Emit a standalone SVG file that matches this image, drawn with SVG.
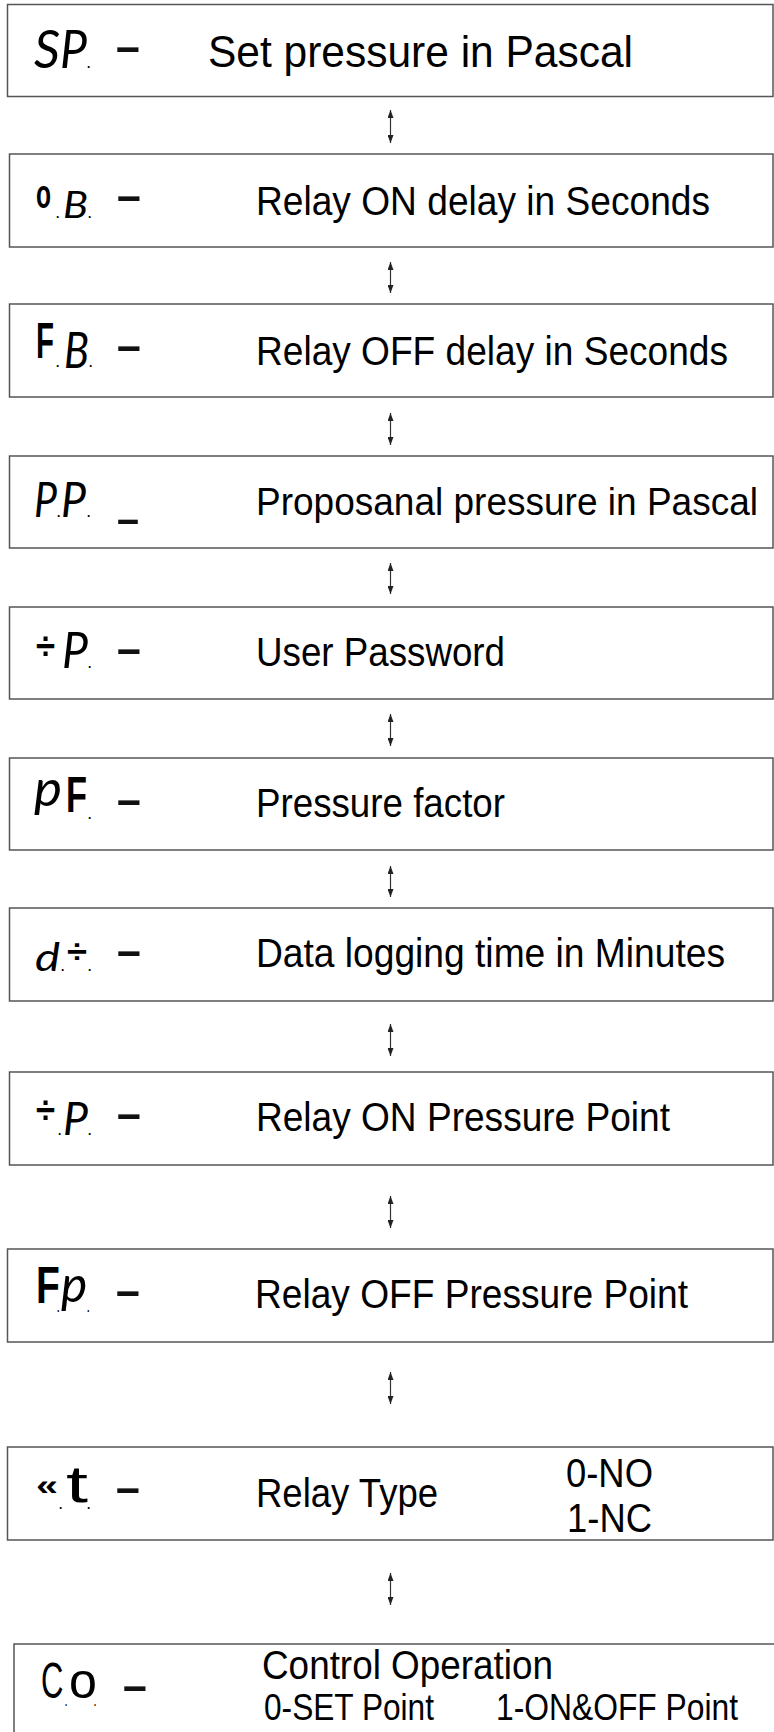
<svg xmlns="http://www.w3.org/2000/svg" width="774" height="1732" viewBox="0 0 774 1732">
<defs>
<style>
.box{fill:#fff;stroke:#555;stroke-width:1.5}
.lbl{font-family:"Liberation Sans",Arial,sans-serif;fill:#000}
.seg{font-family:Lato,"Liberation Sans",sans-serif;font-style:italic;font-weight:400}
.up{font-family:"Liberation Sans",Arial,sans-serif;font-style:normal}
.bd{font-weight:bold}
.dp{font-family:"Liberation Sans",sans-serif;font-size:12px;font-weight:bold}
.code{fill:#000}
.dash{font-family:"Liberation Sans",Arial,sans-serif;font-weight:bold;font-size:38px;fill:#111}
#connectors line{stroke:#333;stroke-width:1.2}
</style>
<marker id="ah" viewBox="0 0 8 6" refX="8" refY="3" markerWidth="8" markerHeight="6" markerUnits="userSpaceOnUse" orient="auto-start-reverse"><path d="M0,0 L8,3 L0,6 z" fill="#222"/></marker>
</defs>
<rect x="0" y="0" width="774" height="1732" fill="#fff"/>

<g id="connectors">
<line x1="390.5" y1="110" x2="390.5" y2="143" marker-start="url(#ah)" marker-end="url(#ah)"/>
<line x1="390.5" y1="262" x2="390.5" y2="293" marker-start="url(#ah)" marker-end="url(#ah)"/>
<line x1="390.5" y1="413" x2="390.5" y2="445" marker-start="url(#ah)" marker-end="url(#ah)"/>
<line x1="390.5" y1="563" x2="390.5" y2="594" marker-start="url(#ah)" marker-end="url(#ah)"/>
<line x1="390.5" y1="714" x2="390.5" y2="746" marker-start="url(#ah)" marker-end="url(#ah)"/>
<line x1="390.5" y1="866" x2="390.5" y2="897" marker-start="url(#ah)" marker-end="url(#ah)"/>
<line x1="390.5" y1="1024" x2="390.5" y2="1056" marker-start="url(#ah)" marker-end="url(#ah)"/>
<line x1="390.5" y1="1196" x2="390.5" y2="1228" marker-start="url(#ah)" marker-end="url(#ah)"/>
<line x1="390.5" y1="1372" x2="390.5" y2="1404" marker-start="url(#ah)" marker-end="url(#ah)"/>
<line x1="390.5" y1="1573" x2="390.5" y2="1605" marker-start="url(#ah)" marker-end="url(#ah)"/>
</g>

<g id="node-sp">
<rect class="box" x="7.5" y="4.5" width="765.5" height="92"/>
<text class="code"><tspan class="seg" x="34" y="68" font-size="53" textLength="26" lengthAdjust="spacingAndGlyphs">S</tspan><tspan class="seg" x="60" y="68" font-size="53" textLength="27" lengthAdjust="spacingAndGlyphs">P</tspan><tspan class="dp" x="87" y="68">.</tspan></text>
<text class="dash" transform="translate(128,60.2) scale(2.2,1)" text-anchor="middle">-</text>
<text class="lbl" x="208" y="67" font-size="45" textLength="425" lengthAdjust="spacingAndGlyphs">Set pressure in Pascal</text>
</g>

<g id="node-od">
<rect class="box" x="9.5" y="154" width="763.5" height="93"/>
<text class="code"><tspan class="up bd" x="36" y="208" font-size="40" textLength="15" lengthAdjust="spacingAndGlyphs">o</tspan><tspan class="dp" x="56" y="218">.</tspan><tspan class="seg" x="63" y="218" font-size="37" textLength="25" lengthAdjust="spacingAndGlyphs">B</tspan><tspan class="dp" x="88" y="218">.</tspan></text>
<text class="dash" transform="translate(129,208.7) scale(2.2,1)" text-anchor="middle">-</text>
<text class="lbl" x="256" y="215" font-size="40" textLength="454" lengthAdjust="spacingAndGlyphs">Relay ON delay in Seconds</text>
</g>

<g id="node-fd">
<rect class="box" x="9.5" y="304" width="763.5" height="93"/>
<text class="code"><tspan class="up bd" x="36" y="358" font-size="50" textLength="18" lengthAdjust="spacingAndGlyphs">F</tspan><tspan class="dp" x="56" y="367">.</tspan><tspan class="seg" x="64" y="368" font-size="50" textLength="25" lengthAdjust="spacingAndGlyphs">B</tspan><tspan class="dp" x="89" y="367">.</tspan></text>
<text class="dash" transform="translate(129,358.7) scale(2.2,1)" text-anchor="middle">-</text>
<text class="lbl" x="256" y="365" font-size="40" textLength="472" lengthAdjust="spacingAndGlyphs">Relay OFF delay in Seconds</text>
</g>

<g id="node-pp">
<rect class="box" x="9.5" y="456" width="763.5" height="92"/>
<text class="code"><tspan class="seg" x="34" y="517" font-size="48" textLength="23" lengthAdjust="spacingAndGlyphs">P</tspan><tspan class="dp" x="57" y="517">.</tspan><tspan class="seg" x="61" y="517" font-size="48" textLength="25" lengthAdjust="spacingAndGlyphs">P</tspan><tspan class="dp" x="87" y="517">.</tspan></text>
<text class="dash" transform="translate(128,510) scale(0.9,3)" text-anchor="middle">_</text>
<text class="lbl" x="256" y="515" font-size="38" textLength="502" lengthAdjust="spacingAndGlyphs">Proposanal pressure in Pascal</text>
</g>

<g id="node-up">
<rect class="box" x="9.5" y="607" width="763.5" height="92"/>
<text class="code"><tspan class="up bd" x="36" y="659" font-size="38" textLength="19" lengthAdjust="spacingAndGlyphs">÷</tspan><tspan class="seg" x="62" y="668" font-size="50" textLength="26" lengthAdjust="spacingAndGlyphs">P</tspan><tspan class="dp" x="88" y="668">.</tspan></text>
<text class="dash" transform="translate(129,661.7) scale(2.2,1)" text-anchor="middle">-</text>
<text class="lbl" x="256" y="666" font-size="40" textLength="249" lengthAdjust="spacingAndGlyphs">User Password</text>
</g>

<g id="node-pf">
<rect class="box" x="9.5" y="758" width="763.5" height="92"/>
<text class="code"><tspan class="seg" x="34" y="806" font-size="50" textLength="28" lengthAdjust="spacingAndGlyphs">p</tspan><tspan class="up bd" x="66" y="812" font-size="50" textLength="21" lengthAdjust="spacingAndGlyphs">F</tspan><tspan class="dp" x="88" y="819">.</tspan></text>
<text class="dash" transform="translate(129,812.7) scale(2.2,1)" text-anchor="middle">-</text>
<text class="lbl" x="256" y="817" font-size="40" textLength="249" lengthAdjust="spacingAndGlyphs">Pressure factor</text>
</g>

<g id="node-dt">
<rect class="box" x="9.5" y="908" width="763.5" height="93"/>
<text class="code"><tspan class="seg" x="35" y="971" font-size="38" textLength="25" lengthAdjust="spacingAndGlyphs">d</tspan><tspan class="dp" x="61" y="971">.</tspan><tspan class="up bd" x="67" y="963" font-size="34" textLength="20" lengthAdjust="spacingAndGlyphs">÷</tspan><tspan class="dp" x="88" y="971">.</tspan></text>
<text class="dash" transform="translate(129,963.7) scale(2.2,1)" text-anchor="middle">-</text>
<text class="lbl" x="256" y="967" font-size="40" textLength="469" lengthAdjust="spacingAndGlyphs">Data logging time in Minutes</text>
</g>

<g id="node-op">
<rect class="box" x="9.5" y="1072" width="763.5" height="93"/>
<text class="code"><tspan class="up bd" x="36" y="1123" font-size="38" textLength="19" lengthAdjust="spacingAndGlyphs">÷</tspan><tspan class="dp" x="58" y="1135">.</tspan><tspan class="seg" x="63" y="1135" font-size="46" textLength="25" lengthAdjust="spacingAndGlyphs">P</tspan><tspan class="dp" x="88" y="1135">.</tspan></text>
<text class="dash" transform="translate(129,1126.7) scale(2.2,1)" text-anchor="middle">-</text>
<text class="lbl" x="256" y="1131" font-size="40" textLength="414" lengthAdjust="spacingAndGlyphs">Relay ON Pressure Point</text>
</g>

<g id="node-fp">
<rect class="box" x="7.5" y="1249" width="765.5" height="93"/>
<text class="code" transform="translate(36,0) scale(0.75,1)"><tspan class="up bd" x="0" y="1303" font-size="52">F</tspan><tspan class="dp" x="28" y="1312">.</tspan><tspan class="seg" x="33.3" y="1302" font-size="50" textLength="35" lengthAdjust="spacingAndGlyphs">p</tspan><tspan class="dp" x="68" y="1312">.</tspan></text>
<text class="dash" transform="translate(128,1303.7) scale(2.2,1)" text-anchor="middle">-</text>
<text class="lbl" x="255" y="1308" font-size="40" textLength="433" lengthAdjust="spacingAndGlyphs">Relay OFF Pressure Point</text>
</g>

<g id="node-rt">
<rect class="box" x="7.5" y="1447" width="765.5" height="93"/>
<text class="code"><tspan class="up bd" x="36" y="1495" font-size="30" textLength="22" lengthAdjust="spacingAndGlyphs">«</tspan><tspan class="dp" x="59" y="1509">.</tspan><tspan class="up" x="66" y="1502" font-size="52" textLength="22" lengthAdjust="spacingAndGlyphs">t</tspan><tspan class="dp" x="87" y="1509">.</tspan></text>
<text class="dash" transform="translate(128,1501.2) scale(2.2,1)" text-anchor="middle">-</text>
<text class="lbl" x="256" y="1507" font-size="40" textLength="182" lengthAdjust="spacingAndGlyphs">Relay Type</text>
<text class="lbl" x="566" y="1487" font-size="40" textLength="87" lengthAdjust="spacingAndGlyphs">0-NO</text>
<text class="lbl" x="567" y="1532" font-size="40" textLength="85" lengthAdjust="spacingAndGlyphs">1-NC</text>
</g>

<g id="node-co">
<rect class="box" x="14" y="1644" width="780" height="120"/>
<text class="code" transform="translate(41,0) scale(0.62,1)"><tspan class="up" x="0" y="1698" font-size="50">C</tspan><tspan class="dp" x="38.7" y="1706">.</tspan><tspan class="up" x="45.2" y="1698" font-size="50" textLength="45" lengthAdjust="spacingAndGlyphs">o</tspan><tspan class="dp" x="85.5" y="1706">.</tspan></text>
<text class="dash" transform="translate(135,1699.2) scale(2.2,1)" text-anchor="middle">-</text>
<text class="lbl" x="262" y="1679" font-size="40" textLength="291" lengthAdjust="spacingAndGlyphs">Control Operation</text>
<text class="lbl" x="264" y="1720" font-size="36" textLength="170" lengthAdjust="spacingAndGlyphs">0-SET Point</text>
<text class="lbl" x="496" y="1720" font-size="36" textLength="242" lengthAdjust="spacingAndGlyphs">1-ON&amp;OFF Point</text>
</g>
</svg>
